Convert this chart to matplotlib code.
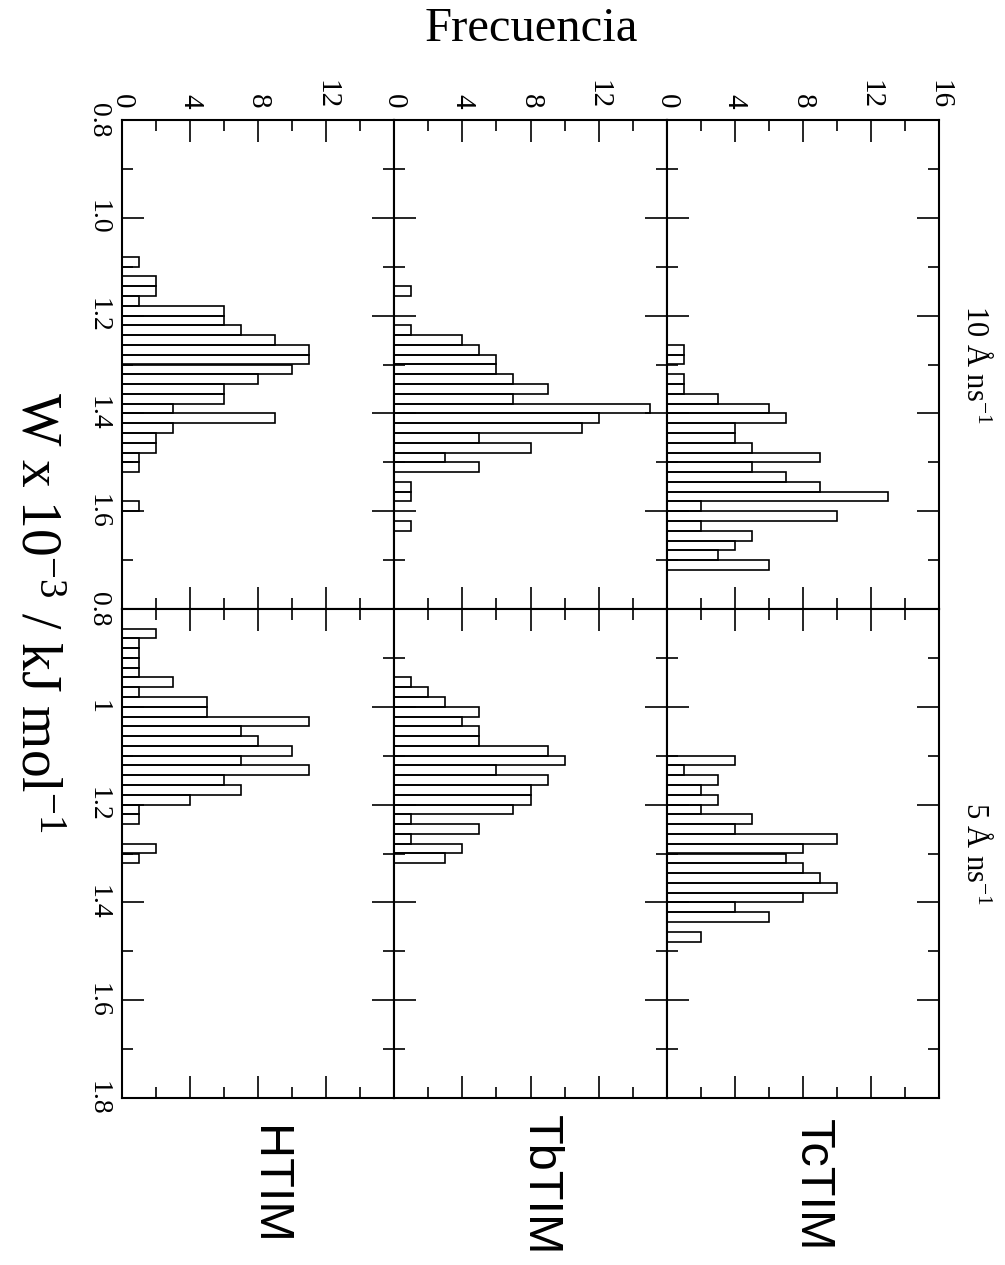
import numpy as np
import matplotlib
matplotlib.use("Agg")
from matplotlib import pyplot as plt

plt.rcParams['font.family'] = ['Liberation Serif', 'DejaVu Serif']
plt.rcParams['mathtext.fontset'] = 'custom'
plt.rcParams['mathtext.rm'] = 'Liberation Serif'
plt.rcParams['mathtext.it'] = 'Liberation Serif:italic'

# histogram counts, bins of 0.02 starting at the given W value
tc10_start = 1.26
tc10 = [1, 1, 0, 1, 1, 3, 6, 7, 4, 4, 5, 9, 5, 7, 9, 13, 2, 10, 2, 5, 4, 3, 6]
tb10_start = 1.14
tb10 = [1, 0, 0, 0, 1, 4, 5, 6, 6, 7, 9, 7, 15, 12, 11, 5, 8, 3, 5, 0, 1, 1, 0, 0, 1]
h10_start = 1.08
h10 = [1, 0, 2, 2, 1, 6, 6, 7, 9, 11, 11, 10, 8, 6, 6, 3, 9, 3, 2, 2, 1, 1, 0, 0, 0, 1]
tc5_start = 1.10
tc5 = [4, 1, 3, 2, 3, 2, 5, 4, 10, 8, 7, 8, 9, 10, 8, 4, 6, 0, 2]
tb5_start = 0.94
tb5 = [1, 2, 3, 5, 4, 5, 5, 9, 10, 6, 9, 8, 8, 7, 1, 5, 1, 4, 3]
h5_start = 0.84
h5 = [2, 1, 1, 1, 1, 3, 1, 5, 5, 11, 7, 8, 10, 7, 11, 6, 7, 4, 1, 1, 0, 0, 2, 1]
bin_w = 0.02

proteins = ['HTIM', 'TbTIM', 'TcTIM']
speeds = ['10 Å ns$^{-1}$', '5 Å ns$^{-1}$']
panels = [[(h10_start, h10), (tb10_start, tb10), (tc10_start, tc10)],
          [(h5_start, h5), (tb5_start, tb5), (tc5_start, tc5)]]

w_major = [0.8, 1.0, 1.2, 1.4, 1.6, 1.8]
w_minor = [0.9, 1.1, 1.3, 1.5, 1.7]
w_labels = [['0.8', '1.0', '1.2', '1.4', '1.6', ''],
            ['0.8', '1', '1.2', '1.4', '1.6', '1.8']]
f_major = [0, 4, 8, 12, 16]
f_minor = [2, 6, 10, 14]
f_labels = [['0', '4', '8', '12', ''], ['0', '4', '8', '12', ''],
            ['0', '4', '8', '12', '16']]

W, H = 1005, 1265
fig = plt.figure(figsize=(W / 100, H / 100), dpi=100)
left, right = 122, 939
top, bot = 120, 1098
colw = (right - left) / 3
rowh = (bot - top) / 2

for r in range(2):
    for c in range(3):
        x0 = left + c * colw
        y0 = top + r * rowh
        ax = fig.add_axes([x0 / W, 1 - (y0 + rowh) / H, colw / W, rowh / H])
        start, counts = panels[r][c]
        counts = np.array(counts)
        edges = start + bin_w * np.arange(len(counts))
        keep = counts > 0
        ax.barh(edges[keep], counts[keep], height=bin_w, align='edge',
                fill=False, edgecolor='black', linewidth=1.2)
        ax.set_xlim(0, 16)
        ax.set_ylim(1.8, 0.8)
        ax.set_xticks(f_major)
        ax.set_xticks(f_minor, minor=True)
        ax.set_yticks(w_major)
        ax.set_yticks(w_minor, minor=True)
        ax.tick_params(which='both', direction='in', top=True, bottom=True,
                       left=True, right=True, width=1.2, pad=8)
        ax.tick_params(which='major', length=16)
        ax.tick_params(which='minor', length=8)
        ax.tick_params(labeltop=(r == 0), labelbottom=False,
                       labelleft=(c == 0), labelright=False)
        if r == 0:
            ax.set_xticklabels(f_labels[c], rotation=-90, fontsize=21)
        if c == 0:
            ax.set_yticklabels(w_labels[r], rotation=-90, fontsize=20, va='center')
        for s in ax.spines.values():
            s.set_linewidth(1.5)

fig.text(531 / W, 1 - 29 / H, 'Frecuencia', ha='center', va='center', fontsize=35)
fig.text(35 / W, 1 - 612 / H, 'W x 10$^{-3}$ / kJ mol$^{-1}$', rotation=-90,
         ha='center', va='center', fontsize=40)
for r in range(2):
    fig.text(975 / W, 1 - (top + (r + 0.5) * rowh) / H, speeds[r], rotation=-90,
             ha='center', va='center', fontsize=22)
for c in range(3):
    fig.text((left + (c + 0.5) * colw + 10) / W, 1 - 1185 / H, proteins[c],
             rotation=-90, ha='center', va='center', fontsize=35,
             family=['Liberation Sans', 'DejaVu Sans'])

fig.savefig('out.png', dpi=100, facecolor='white')
